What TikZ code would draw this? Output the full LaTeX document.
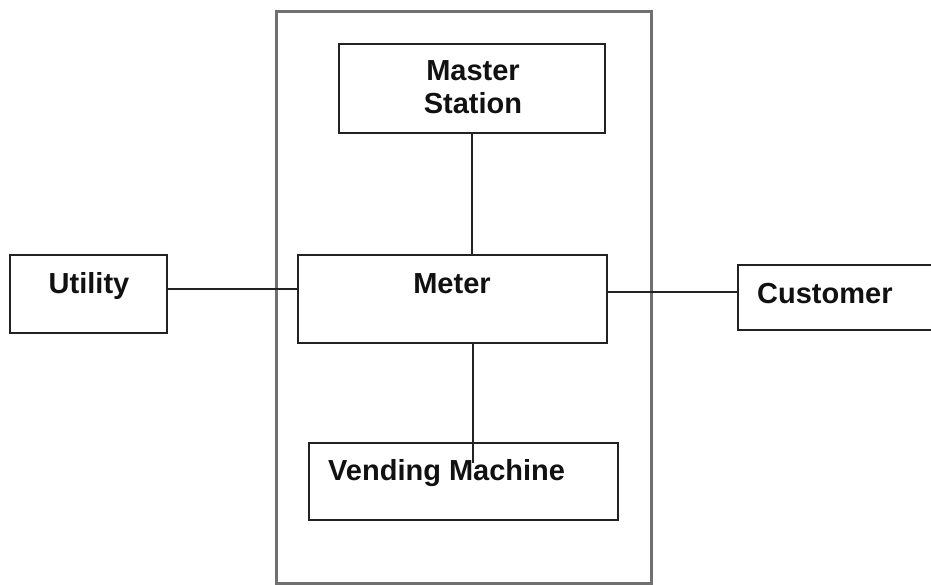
\documentclass[tikz,border=0pt]{standalone}
\usepackage{fontspec}
\setmainfont{Liberation Sans}
\definecolor{boxline}{HTML}{222222}
\definecolor{outerline}{HTML}{707070}
\definecolor{txt}{HTML}{111111}
\begin{document}
\begin{tikzpicture}[x=1pt,y=-1pt,
  box/.style={draw=boxline, line width=2.4pt, inner sep=0pt, fill=white},
  lbl/.style={text=txt, font=\fontsize{29}{33}\selectfont\bfseries, inner sep=0pt, align=center},
  conn/.style={draw=boxline, line width=2pt}]
\clip (0,0) rectangle (931,585);
\fill[white] (0,0) rectangle (931,585);
% outer frame
\node[draw=outerline, line width=3pt, minimum width=375pt, minimum height=571pt, inner sep=0pt] (frame) at (463.5,297.5) {};
% boxes
\node[box, minimum width=266pt, minimum height=89pt] (master) at (472,88.5) {};
\node[box, minimum width=309pt, minimum height=88pt] (meter) at (452.5,299) {};
\node[box, minimum width=309pt, minimum height=77pt] (vend) at (463.5,481.5) {};
\node[box, minimum width=157pt, minimum height=78pt] (util) at (88.5,294) {};
\node[box, minimum width=220pt, minimum height=65pt] (cust) at (848,297.5) {};
% labels
\node[lbl] (masterT) at (473,87) {Master\\Station};
\node[lbl] (meterT) at (452,284) {Meter};
\node[lbl, anchor=west] (vendT) at (328,473) {Vending Machine};
\node[lbl] (utilT) at (89,286) {Utility};
\node[lbl, anchor=west] (custT) at (757,294) {Customer};
% connectors
\coordinate (uy) at (0,289);
\coordinate (cy) at (0,292);
\coordinate (vendEnd) at (473,463);
\draw[conn] (master.south) -- (master.south |- meter.north);
\draw[conn] (meter.south -| vendEnd) -- (vendEnd);
\draw[conn] (util.east |- uy) -- (meter.west |- uy);
\draw[conn] (meter.east |- cy) -- (cust.west |- cy);
\end{tikzpicture}
\end{document}
